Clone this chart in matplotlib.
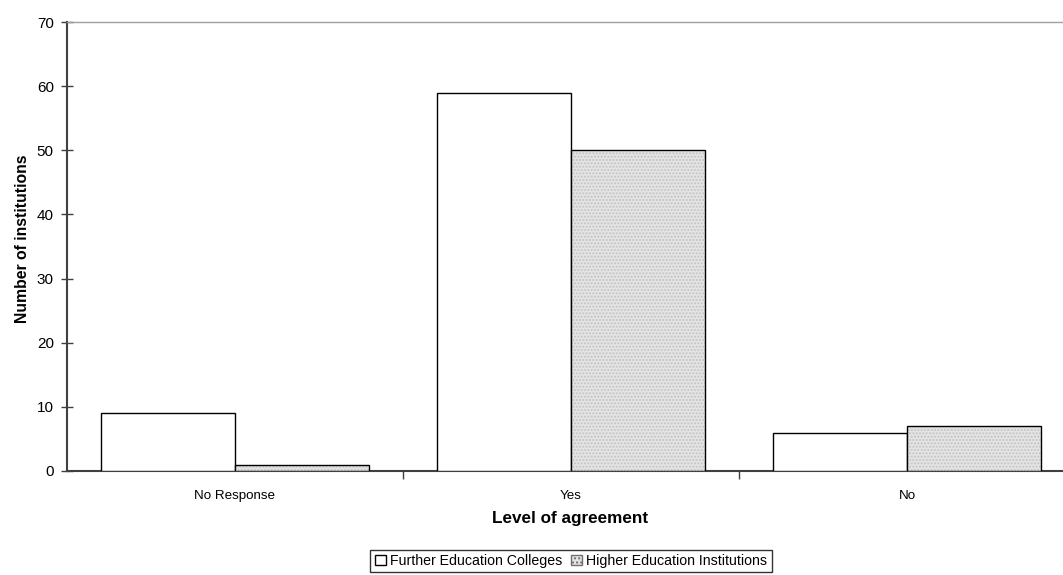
import matplotlib
matplotlib.use("Agg")
import matplotlib.pyplot as plt
from matplotlib.patches import Patch
import numpy as np

categories = ["No Response", "Yes", "No"]
series_names = ["Further Education Colleges", "Higher Education Institutions"]
fe_values = [9, 59, 6]
he_values = [1, 50, 7]
y_ticks = [0, 10, 20, 30, 40, 50, 60, 70]

plt.rcParams['font.family'] = ['Liberation Sans', 'DejaVu Sans']
plt.rcParams['hatch.linewidth'] = 1.0

W, H = 1063, 575
fig = plt.figure(figsize=(W/100, H/100), dpi=100)
left, right, top, bottom = 67, 1075, 22, 471
ax = fig.add_axes([left/W, (H-bottom)/H, (right-left)/W, (bottom-top)/H])

x = np.arange(len(categories))
bw = 134/336
he_face = '#e4e4e4'
he_dots = '#c4c4c4'
ax.bar(x - bw/2, fe_values, bw, color='white', edgecolor='black', linewidth=1.0, zorder=3)
ax.bar(x + bw/2, he_values, bw, color=he_face, edgecolor=he_dots, linewidth=0,
       hatch='.....', zorder=3)
ax.bar(x + bw/2, he_values, bw, fill=False, edgecolor='black', linewidth=1.0, zorder=4)

ax.set_xlim(-0.5, len(categories) - 0.5)
ax.set_ylim(0, 70)
ax.set_yticks(y_ticks)
ax.set_xticks(x)
ax.set_xticklabels(categories, fontsize=9.6)
ax.set_xticks(np.arange(0.5, len(categories) - 0.5, 1), minor=True)
ax.tick_params(axis='x', which='major', length=0, pad=14)
ax.tick_params(axis='x', which='minor', length=6, width=1, color='#404040', direction='out')
ax.tick_params(axis='y', labelsize=11, length=9, width=1, direction='inout', color='#404040', pad=5)

ax.spines['right'].set_visible(False)
ax.spines['top'].set_color('#a0a0a0')
ax.spines['top'].set_linewidth(1.0)
ax.spines['left'].set_color('#404040')
ax.spines['left'].set_linewidth(1.5)
ax.spines['bottom'].set_color('#404040')
ax.spines['bottom'].set_linewidth(1.5)

fig.text(23/W, 1 - 239/H, "Number of institutions", fontsize=11.3, fontweight='bold',
         ha='center', va='center', rotation=90)
fig.text(570/W, 1 - 518/H, "Level of agreement", fontsize=12.3, fontweight='bold',
         ha='center', va='center')

handles = [Patch(facecolor='white', edgecolor='black', linewidth=1.0),
           Patch(facecolor=he_face, edgecolor='#707070', linewidth=1.0, hatch='....')]
leg = fig.legend(handles, series_names, loc='center', bbox_to_anchor=(571/W, 1 - 561/H), ncol=2,
                 fontsize=10.2, frameon=True, fancybox=False, edgecolor='black',
                 handlelength=0.8, handleheight=0.8, handletextpad=0.3,
                 columnspacing=0.6, borderpad=0.3, borderaxespad=0)
leg.get_frame().set_linewidth(1.0)

fig.savefig("out.png", dpi=100)
